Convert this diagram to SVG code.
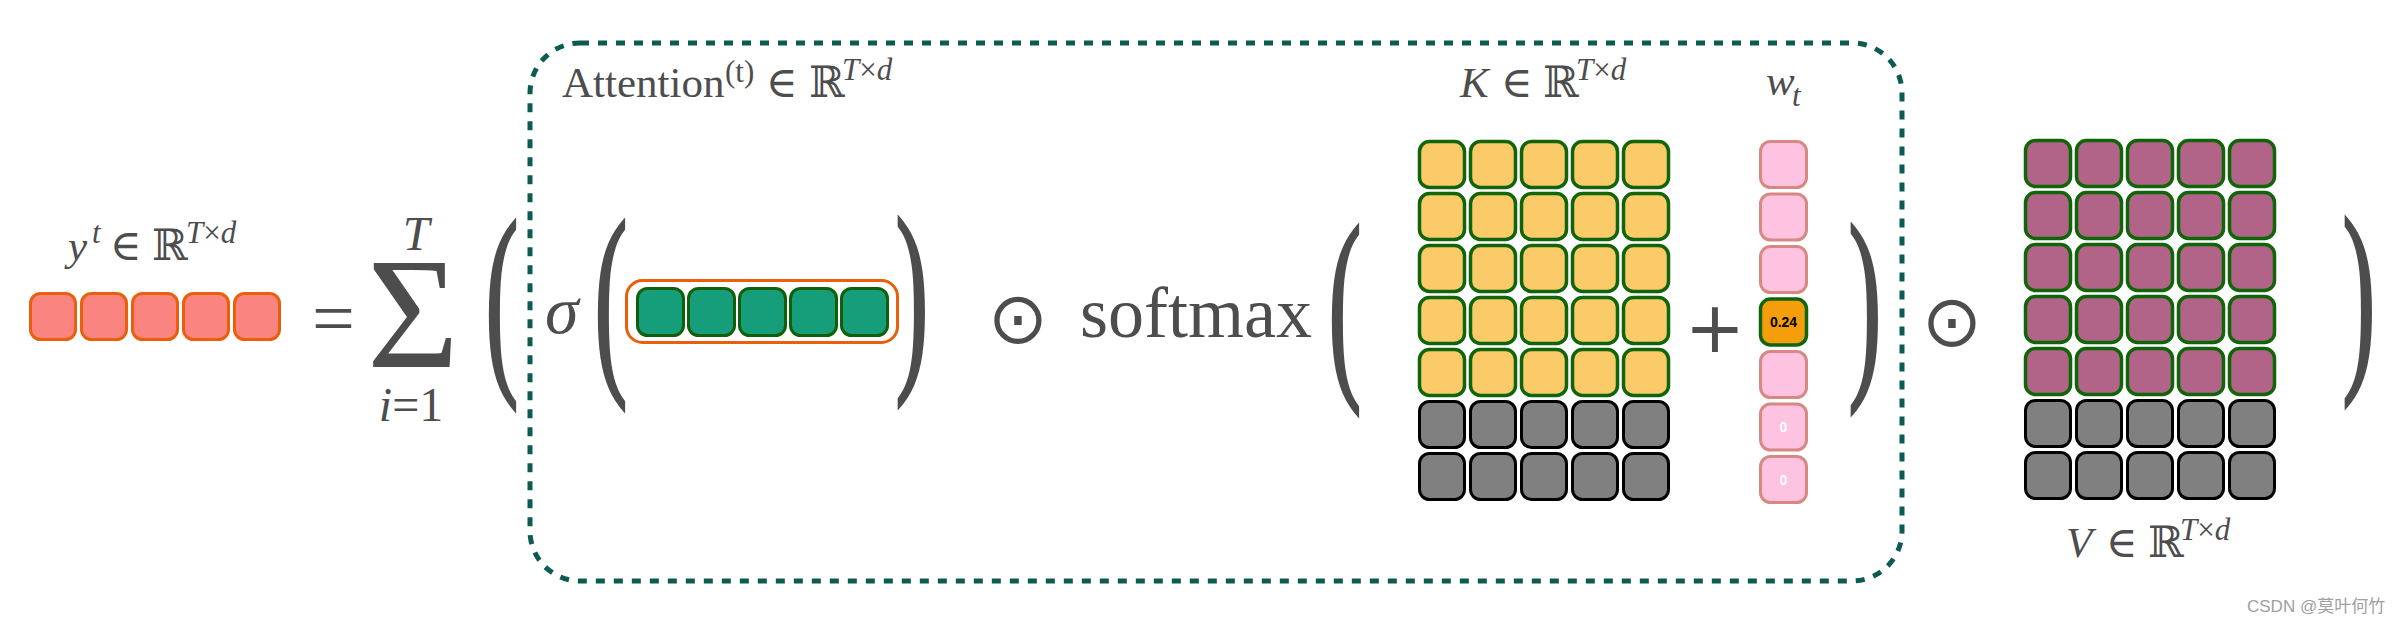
<svg xmlns="http://www.w3.org/2000/svg" width="2400" height="624" viewBox="0 0 2400 624">
<style>
.m{font-family:"Liberation Serif","DejaVu Serif",serif;fill:#4d4d4d}
.i{font-style:italic}
.op{font-family:"DejaVu Sans",sans-serif;fill:#4d4d4d}
.par{font-family:"Liberation Serif","DejaVu Serif",serif;fill:#4d4d4d;stroke:#4d4d4d;stroke-width:1.6;font-size:100px;text-anchor:middle}
.cy{fill:#fa8580;stroke:#eb5e0b;stroke-width:3}
.cg{fill:#169e7a;stroke:#115f0a;stroke-width:3}
.ck{fill:#fbcb69;stroke:#106508;stroke-width:3.5}
.cv{fill:#b16488;stroke:#106508;stroke-width:3.5}
.cz{fill:#808080;stroke:#000;stroke-width:3}
.cp{fill:#fec3e0;stroke:#d88882;stroke-width:3}
.co{fill:#f59e0b;stroke:#106508;stroke-width:3.5}
.num{font-family:"Liberation Sans",Arial,sans-serif;font-weight:bold;font-size:14px;text-anchor:middle}
</style>
<rect width="2400" height="624" fill="#fff"/>
<g id="connectors"/>
<g id="attention-box">
<rect x="530" y="43" width="1372" height="538" rx="50" fill="none" stroke="#0c5b51" stroke-width="5" stroke-dasharray="9 9"/>
<text class="m" font-size="43"><tspan x="562" y="97">Attention</tspan><tspan x="725" y="82" font-size="31">(t)</tspan><tspan x="766" y="97">∈</tspan><tspan x="809" y="97">ℝ</tspan><tspan class="i" x="842" y="80" font-size="31">T</tspan><tspan font-size="31">×</tspan><tspan class="i" font-size="31">d</tspan></text>
</g>
<g id="y-vector">
<text class="m" font-size="43"><tspan class="i" x="68" y="260">y</tspan><tspan class="i" x="92" y="243" font-size="31">t</tspan><tspan x="110" y="260">∈</tspan><tspan x="152" y="260">ℝ</tspan><tspan class="i" x="186" y="243" font-size="31">T</tspan><tspan font-size="31">×</tspan><tspan class="i" font-size="31">d</tspan></text>
<rect class="cy" x="30.5" y="293.5" width="45" height="46" rx="10"/>
<rect class="cy" x="81.5" y="293.5" width="45" height="46" rx="10"/>
<rect class="cy" x="132.5" y="293.5" width="45" height="46" rx="10"/>
<rect class="cy" x="183.5" y="293.5" width="45" height="46" rx="10"/>
<rect class="cy" x="234.5" y="293.5" width="45" height="46" rx="10"/>
</g>
<g id="sum">
<text class="m" font-size="76" x="312" y="344">=</text>
<text class="m" font-size="158" x="413" y="367" text-anchor="middle">Σ</text>
<text class="m i" font-size="48" x="416" y="250" text-anchor="middle">T</text>
<text class="m" font-size="48" x="411" y="421" text-anchor="middle"><tspan class="i">i</tspan>=1</text>
<text class="par" transform="translate(502,314) scale(1,2.09)" y="25">(</text>
</g>
<g id="sigma-query">
<text class="m i" font-size="68" x="545" y="333">σ</text>
<text class="par" transform="translate(611,313.5) scale(1,2.09)" y="25">(</text>
<rect x="626.5" y="280.5" width="271" height="62" rx="16" fill="none" stroke="#eb5e0b" stroke-width="3"/>
<rect class="cg" x="637.5" y="288.5" width="46" height="47" rx="10"/>
<rect class="cg" x="688.5" y="288.5" width="46" height="47" rx="10"/>
<rect class="cg" x="739.5" y="288.5" width="46" height="47" rx="10"/>
<rect class="cg" x="790.5" y="288.5" width="46" height="47" rx="10"/>
<rect class="cg" x="841.5" y="288.5" width="46" height="47" rx="10"/>
<text class="par" transform="translate(912,311) scale(1,2.09)" y="25">)</text>
</g>
<g id="softmax">
<text class="op" font-size="72" x="1018" y="343" text-anchor="middle">⊙</text>
<text class="m" font-size="72" x="1080" y="337">softmax</text>
<text class="par" transform="translate(1345,318.5) scale(1,2.09)" y="25">(</text>
</g>
<g id="K-matrix">
<text class="m" font-size="43"><tspan class="i" x="1460" y="97">K</tspan><tspan x="1501" y="97">∈</tspan><tspan x="1543" y="97">ℝ</tspan><tspan class="i" x="1576" y="80" font-size="31">T</tspan><tspan font-size="31">×</tspan><tspan class="i" font-size="31">d</tspan></text>
<rect class="ck" x="1419.5" y="141.5" width="45" height="46" rx="10"/><rect class="ck" x="1470.5" y="141.5" width="45" height="46" rx="10"/><rect class="ck" x="1521.5" y="141.5" width="45" height="46" rx="10"/><rect class="ck" x="1572.5" y="141.5" width="45" height="46" rx="10"/><rect class="ck" x="1623.5" y="141.5" width="45" height="46" rx="10"/>
<rect class="ck" x="1419.5" y="193.5" width="45" height="46" rx="10"/><rect class="ck" x="1470.5" y="193.5" width="45" height="46" rx="10"/><rect class="ck" x="1521.5" y="193.5" width="45" height="46" rx="10"/><rect class="ck" x="1572.5" y="193.5" width="45" height="46" rx="10"/><rect class="ck" x="1623.5" y="193.5" width="45" height="46" rx="10"/>
<rect class="ck" x="1419.5" y="245.5" width="45" height="46" rx="10"/><rect class="ck" x="1470.5" y="245.5" width="45" height="46" rx="10"/><rect class="ck" x="1521.5" y="245.5" width="45" height="46" rx="10"/><rect class="ck" x="1572.5" y="245.5" width="45" height="46" rx="10"/><rect class="ck" x="1623.5" y="245.5" width="45" height="46" rx="10"/>
<rect class="ck" x="1419.5" y="297.5" width="45" height="46" rx="10"/><rect class="ck" x="1470.5" y="297.5" width="45" height="46" rx="10"/><rect class="ck" x="1521.5" y="297.5" width="45" height="46" rx="10"/><rect class="ck" x="1572.5" y="297.5" width="45" height="46" rx="10"/><rect class="ck" x="1623.5" y="297.5" width="45" height="46" rx="10"/>
<rect class="ck" x="1419.5" y="349.5" width="45" height="46" rx="10"/><rect class="ck" x="1470.5" y="349.5" width="45" height="46" rx="10"/><rect class="ck" x="1521.5" y="349.5" width="45" height="46" rx="10"/><rect class="ck" x="1572.5" y="349.5" width="45" height="46" rx="10"/><rect class="ck" x="1623.5" y="349.5" width="45" height="46" rx="10"/>
<rect class="cz" x="1419.5" y="401.5" width="45" height="46" rx="10"/><rect class="cz" x="1470.5" y="401.5" width="45" height="46" rx="10"/><rect class="cz" x="1521.5" y="401.5" width="45" height="46" rx="10"/><rect class="cz" x="1572.5" y="401.5" width="45" height="46" rx="10"/><rect class="cz" x="1623.5" y="401.5" width="45" height="46" rx="10"/>
<rect class="cz" x="1419.5" y="453.5" width="45" height="46" rx="10"/><rect class="cz" x="1470.5" y="453.5" width="45" height="46" rx="10"/><rect class="cz" x="1521.5" y="453.5" width="45" height="46" rx="10"/><rect class="cz" x="1572.5" y="453.5" width="45" height="46" rx="10"/><rect class="cz" x="1623.5" y="453.5" width="45" height="46" rx="10"/>
</g>
<g id="plus">
<text class="op" font-size="72" x="1715" y="352" text-anchor="middle">+</text>
</g>
<g id="w-vector">
<text class="m" font-size="43"><tspan class="i" x="1766" y="95">w</tspan><tspan class="i" x="1792" y="106" font-size="31">t</tspan></text>
<rect class="cp" x="1760.5" y="141.5" width="46" height="46" rx="10"/>
<rect class="cp" x="1760.5" y="194" width="46" height="46" rx="10"/>
<rect class="cp" x="1760.5" y="246.5" width="46" height="46" rx="10"/>
<rect class="co" x="1760.5" y="299" width="46" height="46" rx="10"/>
<text class="num" x="1783.5" y="327" fill="#000">0.24</text>
<rect class="cp" x="1760.5" y="351.5" width="46" height="46" rx="10"/>
<rect class="cp" x="1760.5" y="404" width="46" height="46" rx="10"/>
<text class="num" x="1783.5" y="432" fill="#fff">0</text>
<rect class="cp" x="1760.5" y="456.5" width="46" height="46" rx="10"/>
<text class="num" x="1783.5" y="484.5" fill="#fff">0</text>
<text class="par" transform="translate(1865,318) scale(1,2.09)" y="25">)</text>
</g>
<g id="hadamard">
<text class="op" font-size="72" x="1952" y="346" text-anchor="middle">⊙</text>
</g>
<g id="V-matrix">
<rect class="cv" x="2025.5" y="140.5" width="45" height="46" rx="10"/><rect class="cv" x="2076.5" y="140.5" width="45" height="46" rx="10"/><rect class="cv" x="2127.5" y="140.5" width="45" height="46" rx="10"/><rect class="cv" x="2178.5" y="140.5" width="45" height="46" rx="10"/><rect class="cv" x="2229.5" y="140.5" width="45" height="46" rx="10"/>
<rect class="cv" x="2025.5" y="192.5" width="45" height="46" rx="10"/><rect class="cv" x="2076.5" y="192.5" width="45" height="46" rx="10"/><rect class="cv" x="2127.5" y="192.5" width="45" height="46" rx="10"/><rect class="cv" x="2178.5" y="192.5" width="45" height="46" rx="10"/><rect class="cv" x="2229.5" y="192.5" width="45" height="46" rx="10"/>
<rect class="cv" x="2025.5" y="244.5" width="45" height="46" rx="10"/><rect class="cv" x="2076.5" y="244.5" width="45" height="46" rx="10"/><rect class="cv" x="2127.5" y="244.5" width="45" height="46" rx="10"/><rect class="cv" x="2178.5" y="244.5" width="45" height="46" rx="10"/><rect class="cv" x="2229.5" y="244.5" width="45" height="46" rx="10"/>
<rect class="cv" x="2025.5" y="296.5" width="45" height="46" rx="10"/><rect class="cv" x="2076.5" y="296.5" width="45" height="46" rx="10"/><rect class="cv" x="2127.5" y="296.5" width="45" height="46" rx="10"/><rect class="cv" x="2178.5" y="296.5" width="45" height="46" rx="10"/><rect class="cv" x="2229.5" y="296.5" width="45" height="46" rx="10"/>
<rect class="cv" x="2025.5" y="348.5" width="45" height="46" rx="10"/><rect class="cv" x="2076.5" y="348.5" width="45" height="46" rx="10"/><rect class="cv" x="2127.5" y="348.5" width="45" height="46" rx="10"/><rect class="cv" x="2178.5" y="348.5" width="45" height="46" rx="10"/><rect class="cv" x="2229.5" y="348.5" width="45" height="46" rx="10"/>
<rect class="cz" x="2025.5" y="400.5" width="45" height="46" rx="10"/><rect class="cz" x="2076.5" y="400.5" width="45" height="46" rx="10"/><rect class="cz" x="2127.5" y="400.5" width="45" height="46" rx="10"/><rect class="cz" x="2178.5" y="400.5" width="45" height="46" rx="10"/><rect class="cz" x="2229.5" y="400.5" width="45" height="46" rx="10"/>
<rect class="cz" x="2025.5" y="452.5" width="45" height="46" rx="10"/><rect class="cz" x="2076.5" y="452.5" width="45" height="46" rx="10"/><rect class="cz" x="2127.5" y="452.5" width="45" height="46" rx="10"/><rect class="cz" x="2178.5" y="452.5" width="45" height="46" rx="10"/><rect class="cz" x="2229.5" y="452.5" width="45" height="46" rx="10"/>
<text class="m" font-size="43"><tspan class="i" x="2066" y="557">V</tspan><tspan x="2106" y="557">∈</tspan><tspan x="2148" y="557">ℝ</tspan><tspan class="i" x="2180" y="540" font-size="31">T</tspan><tspan font-size="31">×</tspan><tspan class="i" font-size="31">d</tspan></text>
<text class="par" transform="translate(2359,310.5) scale(1,2.09)" y="25">)</text>
</g>
<g id="watermark">
<text x="2247" y="612" font-family="Liberation Sans,'Noto Sans CJK SC',sans-serif" font-size="17" fill="#a0a0a0">CSDN @莫叶何竹</text>
</g>
</svg>
